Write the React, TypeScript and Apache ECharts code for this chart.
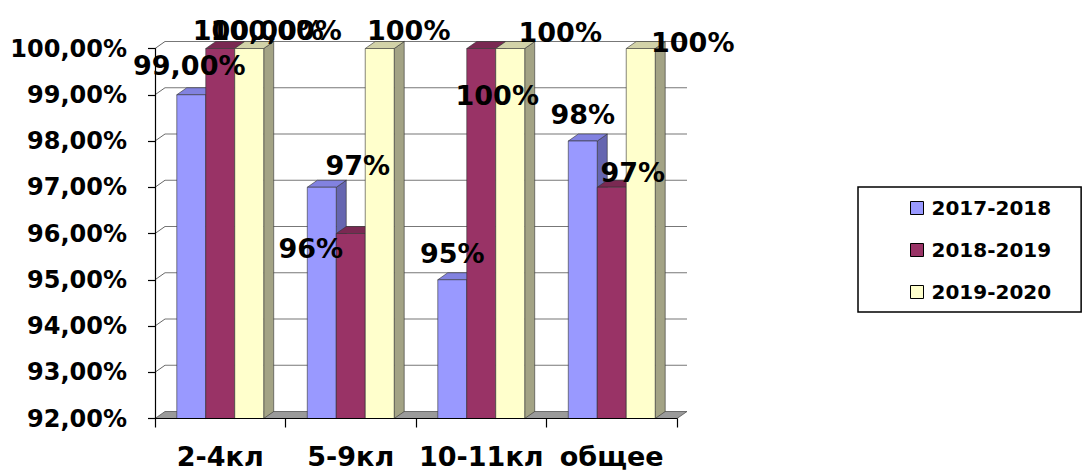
import React, { useEffect, useRef } from "react";
import * as echarts from "echarts";

const categories = ["2-4кл", "5-9кл", "10-11кл", "общее"];
const seriesNames = ["2017-2018", "2018-2019", "2019-2020"];
const values2017 = [99, 97, 95, 98];
const values2018 = [100, 96, 100, 97];
const values2019 = [100, 100, 100, 100];
const labels2017 = ["99,00%", "97%", "95%", "98%"];
const labels2018 = ["100,00%", "96%", "100%", "97%"];
const labels2019 = ["100,00%", "100%", "100%", "100%"];
const yTicks = [92, 93, 94, 95, 96, 97, 98, 99, 100];

const seriesValues = [values2017, values2018, values2019];
const seriesLabels = [labels2017, labels2018, labels2019];

// label placement offsets (style), relative to each bar's top-front centre
const labelOffsets = [
  [[-2, -29], [36, -22], [0, -26], [0, -27]],
  [[38, -18], [-40, 15], [16, 47], [21, -15]],
  [[27, -18], [29, -18], [50, -16], [52, -6]],
];

const FRONT = ["#9999FF", "#993366", "#FFFFCC"];
const TOP = ["#8282E0", "#7A2952", "#D2D2A8"];
const SIDE = ["#6666B0", "#6B2347", "#A3A385"];
const DX = 10;
const DY = -7;
const BAR_FRAC = 0.222;
const FONT = "DejaVu Sans";
const Y_MIN = 92;

function barGeom(api: any, ci: number, v: number, s: number) {
  const top = api.coord([ci, v]);
  const base = api.coord([ci, Y_MIN]);
  const bw = api.size([1, 0])[0];
  const w = bw * BAR_FRAC;
  const x0 = top[0] - 1.5 * w + s * w;
  return { x0, w, yt: top[1], yb: base[1] };
}

export default function App() {
  const ref = useRef<HTMLDivElement>(null);
  useEffect(() => {
    if (!ref.current) return;
    const chart = echarts.init(ref.current, undefined, { renderer: "svg" });

    const barSeries = seriesNames.map((name, s) => ({
      name,
      type: "custom",
      z: 3,
      itemStyle: { color: FRONT[s] },
      data: seriesValues[s].map((v, i) => [i, v]),
      renderItem: (params: any, api: any) => {
        const ci = api.value(0);
        const v = api.value(1);
        const { x0, w, yt, yb } = barGeom(api, ci, v, s);
        const stroke = "#333333";
        return {
          type: "group",
          children: [
            {
              type: "polygon",
              shape: {
                points: [
                  [x0 + w, yt],
                  [x0 + w + DX, yt + DY],
                  [x0 + w + DX, yb + DY],
                  [x0 + w, yb],
                ],
              },
              style: { fill: SIDE[s], stroke, lineWidth: 0.6 },
            },
            {
              type: "polygon",
              shape: {
                points: [
                  [x0, yt],
                  [x0 + w, yt],
                  [x0 + w + DX, yt + DY],
                  [x0 + DX, yt + DY],
                ],
              },
              style: { fill: TOP[s], stroke, lineWidth: 0.6 },
            },
            {
              type: "rect",
              shape: { x: x0, y: yt, width: w, height: yb - yt },
              style: { fill: FRONT[s], stroke, lineWidth: 0.6 },
            },
          ],
        };
      },
    }));

    const labelData: number[][] = [];
    seriesValues.forEach((arr, s) => arr.forEach((v, i) => labelData.push([i, v, s])));

    const labelSeries = {
      name: "labels",
      type: "custom",
      z: 6,
      silent: true,
      data: labelData,
      renderItem: (params: any, api: any) => {
        const ci = api.value(0);
        const v = api.value(1);
        const s = api.value(2);
        const { x0, w, yt } = barGeom(api, ci, v, s);
        const off = labelOffsets[s][ci];
        return {
          type: "text",
          x: x0 + w / 2 + off[0],
          y: yt + off[1],
          style: {
            text: seriesLabels[s][ci],
            fontSize: 27,
            fontWeight: "bold",
            fontFamily: FONT,
            fill: "#000",
            align: "center",
            verticalAlign: "middle",
            textAlign: "center",
            textVerticalAlign: "middle",
          },
        };
      },
    };

    const wallSeries = {
      name: "wall",
      type: "custom",
      z: 1,
      silent: true,
      data: yTicks.map((t) => [0, t]),
      renderItem: (params: any, api: any) => {
        const cs = params.coordSys;
        const t = api.value(1);
        const y = api.coord([0, t])[1];
        const xl = cs.x;
        const xr = cs.x + cs.width;
        const children: any[] = [];
        if (t === Y_MIN) {
          children.push({
            type: "polygon",
            shape: {
              points: [
                [xl, y],
                [xr, y],
                [xr + DX, y + DY],
                [xl + DX, y + DY],
              ],
            },
            style: { fill: "#9A9A9A", stroke: "#555", lineWidth: 0.8 },
          });
        } else {
          children.push({
            type: "line",
            shape: { x1: xl, y1: y, x2: xl + DX, y2: y + DY },
            style: { stroke: "#666", lineWidth: 1 },
          });
          children.push({
            type: "line",
            shape: { x1: xl + DX, y1: y + DY, x2: xr + DX, y2: y + DY },
            style: { stroke: "#777", lineWidth: 1.2 },
          });
        }
        return { type: "group", children };
      },
    };

    chart.setOption({
      animation: false,
      backgroundColor: "#fff",
      grid: { left: 155, width: 522, top: 48.5, height: 370 },
      legend: {
        orient: "vertical",
        left: 858,
        top: 187,
        width: 230,
        padding: [10, 30, 9, 52],
        itemGap: 20,
        itemWidth: 13,
        itemHeight: 13,
        borderColor: "#000",
        borderWidth: 1.5,
        backgroundColor: "#fff",
        textStyle: {
          fontFamily: FONT,
          fontWeight: "bold",
          fontSize: 20,
          lineHeight: 22,
          color: "#000",
          padding: [0, 0, 0, 3],
        },
        data: seriesNames.map((n, s) => ({
          name: n,
          icon: "rect",
          itemStyle: { color: FRONT[s], borderColor: "#000", borderWidth: 1 },
        })),
      },
      xAxis: {
        type: "category",
        data: categories,
        z: 10,
        axisLine: { lineStyle: { color: "#000", width: 1.2 } },
        axisTick: { show: true, length: 9, lineStyle: { color: "#000", width: 1.2 } },
        axisLabel: {
          color: "#000",
          fontFamily: FONT,
          fontWeight: "bold",
          fontSize: 27,
          margin: 24,
          interval: 0,
        },
        splitLine: { show: false },
      },
      yAxis: {
        type: "value",
        min: Y_MIN,
        max: 100,
        interval: 1,
        z: 10,
        axisLine: { show: true, lineStyle: { color: "#000", width: 1.2 } },
        axisTick: { show: true, length: 7, lineStyle: { color: "#000", width: 1.2 } },
        splitLine: { show: false },
        axisLabel: {
          color: "#000",
          fontFamily: FONT,
          fontWeight: "bold",
          fontSize: 24,
          margin: 28,
          formatter: (v: number) => v.toFixed(2).replace(".", ",") + "%",
        },
      },
      series: [wallSeries, ...barSeries, labelSeries],
    });
    return () => chart.dispose();
  }, []);
  return (
    <div
      ref={ref}
      style={{ position: "fixed", left: 0, top: 0, width: 1091, height: 475 }}
    />
  );
}
